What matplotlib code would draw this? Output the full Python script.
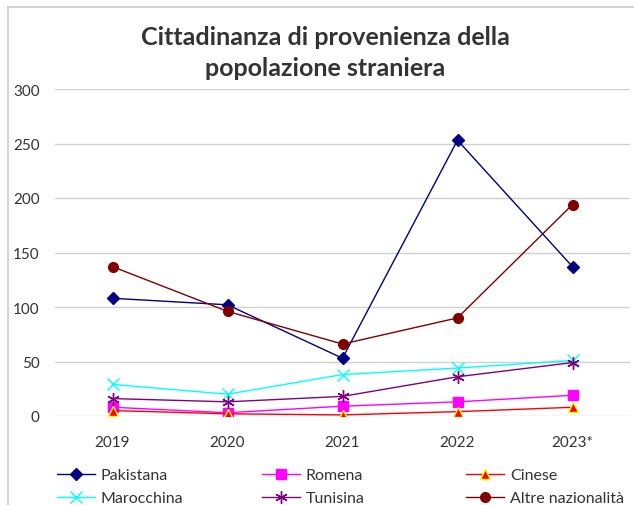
import matplotlib
matplotlib.use("Agg")
import matplotlib.pyplot as plt
from matplotlib.lines import Line2D

years = ["2019", "2020", "2021", "2022", "2023*"]
pakistana = [108, 102, 53, 253, 137]
romena = [8, 3, 9, 13, 19]
cinese = [5, 2, 1, 4, 8]
marocchina = [29, 20, 38, 44, 51]
tunisina = [16, 13, 18, 36, 49]
altre = [137, 96, 66, 90, 194]

plt.rcParams['font.family'] = ['Lato', 'DejaVu Sans']

W, H = 634, 506
fig = plt.figure(figsize=(W/100, H/100), dpi=100)
ax = fig.add_axes([55/W, 1-417/H, 575/W, (417-90)/H])

x = list(range(len(years)))
lw = 1.0
h_pak, = ax.plot(x, pakistana, color='#000080', lw=lw, marker='D', ms=6, mfc='#000080', mec='#000080', label='Pakistana')
h_rom, = ax.plot(x, romena, color='#FF00FF', lw=lw, marker='s', ms=7, mfc='#FF00FF', mec='#FF00FF', label='Romena')
h_cin, = ax.plot(x, cinese, color='#FF0000', lw=lw, marker='^', ms=7, mfc='#FF0000', mec='#FFFF00', mew=1.0, label='Cinese')
h_mar, = ax.plot(x, marocchina, color='#00FFFF', lw=lw, marker='x', ms=8, mec='#00FFFF', mew=1.0, label='Marocchina')
h_tun, = ax.plot(x, tunisina, color='#800080', lw=lw, marker=(6, 2, 0), ms=9, mec='#800080', mew=1.0, label='Tunisina')
h_alt, = ax.plot(x, altre, color='#800000', lw=lw, marker='o', ms=7, mfc='#800000', mec='#800000', label='Altre nazionalità')

ax.set_xlim(-0.5, 4.5)
ax.set_ylim(0, 300)
ax.set_yticks(range(0, 301, 50))
ax.set_xticks(x)
ax.set_xticklabels(years)
ax.grid(axis='y', color='#d0d0d0', lw=1.0)
ax.set_axisbelow(True)
for s in ax.spines.values():
    s.set_visible(False)
ax.tick_params(axis='both', length=0, labelsize=11, colors='#333333')
ax.tick_params(axis='y', pad=11)
ax.tick_params(axis='x', pad=14)

fig.text(325/W, 1-53/H, "Cittadinanza di provenienza della\npopolazione straniera",
         ha='center', va='center', fontsize=18, fontweight='bold', color='#333333',
         linespacing=1.42)

cols = [([h_pak, h_mar], 57), ([h_rom, h_tun], 262), ([h_cin, h_alt], 466)]
for hs, xpos in cols:
    fig.legend(handles=hs, labels=[h.get_label() for h in hs], ncol=1,
               loc='upper left', bbox_to_anchor=(xpos/W, 1-469/H), frameon=False,
               fontsize=11.5, handlelength=2.4, handletextpad=0.35,
               labelspacing=0.55, borderaxespad=0, borderpad=0, labelcolor='#333333')

# outer frame
fig.add_artist(Line2D([8/W, 1], [1-8/H, 1-8/H], color='#cccccc', lw=1.2, transform=fig.transFigure))
fig.add_artist(Line2D([8/W, 8/W], [0, 1-8/H], color='#cccccc', lw=1.2, transform=fig.transFigure))

fig.savefig("out.png", dpi=100)
